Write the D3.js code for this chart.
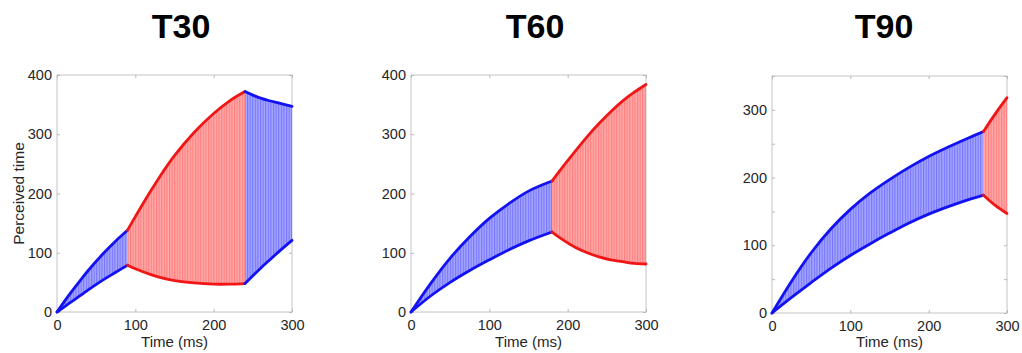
<!DOCTYPE html>
<html>
<head>
<meta charset="utf-8">
<script src="https://cdn.jsdelivr.net/npm/d3@7"></script>
<style>
    body { margin: 0; background: #fff; }
    svg text { font-family: "Liberation Sans", Arial, Helvetica, sans-serif; }
</style>
</head>
<body>
<svg id="chart" width="1022" height="353"></svg>
<script>
// Titles and ticks.
var titles = ['T30', 'T60', 'T90'];
var xTicks = [0, 100, 200, 300];
var yTicks400 = [0, 100, 200, 300, 400];
var yTicks350 = [0, 50, 100, 150, 200, 250, 300, 350];

// T30 : blue 0-90, red 90-240, blue 240-300.
var t30aTime = [0, 15, 30, 45, 60, 75, 90];
var t30aUpper = [0, 28, 54, 78, 100, 120, 138];
var t30aLower = [0, 14, 28, 42, 55, 67, 79];
var t30bTime = [90, 100, 120, 135, 150, 175, 200, 220, 240];
var t30bUpper = [138, 161, 205, 236, 264, 303, 335, 356, 372];
var t30bLower = [79, 73, 63, 57, 53, 49, 47, 47, 48];
var t30cTime = [240, 250, 260, 270, 285, 300];
var t30cUpper = [372, 366, 361, 357, 352, 347];
var t30cLower = [48, 61, 74, 86, 104, 121];

// T60 : blue 0-180, red 180-300.
var t60aTime = [0, 25, 50, 75, 100, 125, 150, 180];
var t60aUpper = [0, 48, 91, 127, 158, 183, 204, 221];
var t60aLower = [0, 27, 50, 70, 88, 105, 120, 135];
var t60bTime = [180, 195, 210, 225, 240, 255, 270, 285, 300];
var t60bUpper = [221, 247, 272, 296, 318, 338, 356, 371, 384];
var t60bLower = [135, 121, 109, 100, 93, 88, 85, 82, 81];

// T90 : blue 0-270, red 270-300.
var t90aTime = [0, 25, 50, 75, 100, 125, 150, 175, 200, 225, 250, 270];
var t90aUpper = [0, 47, 89, 124, 153, 177, 197, 215, 231, 245, 258, 268];
var t90aLower = [0, 23, 45, 66, 85, 102, 118, 133, 146, 157, 167, 174];
var t90bTime = [270, 285, 300];
var t90bUpper = [268, 294, 318];
var t90bLower = [174, 159, 147];

var colors = {
    blue: { line: '#1212f2', light: '#a6a6ff', dark: '#7070ff' },
    red: { line: '#f01616', light: '#ffaaaa', dark: '#ff7878' }
};

function segment(color, time, upper, lower) {
    return {
        color: color,
        points: time.map(function (t, i) {
            return { t: t, hi: upper[i], lo: lower[i] };
        })
    };
}

var panels = [
    {
        title: titles[0], titleX: 181, left: 57, right: 292, top: 75, bottom: 312,
        yMax: 400, yTicks: yTicks400, yLabel: 'Perceived time',
        segments: [
            segment('blue', t30aTime, t30aUpper, t30aLower),
            segment('red', t30bTime, t30bUpper, t30bLower),
            segment('blue', t30cTime, t30cUpper, t30cLower)
        ]
    },
    {
        title: titles[1], titleX: 535, left: 411, right: 646, top: 75, bottom: 312,
        yMax: 400, yTicks: yTicks400, yLabel: null,
        segments: [
            segment('blue', t60aTime, t60aUpper, t60aLower),
            segment('red', t60bTime, t60bUpper, t60bLower)
        ]
    },
    {
        title: titles[2], titleX: 884, left: 772, right: 1007, top: 76, bottom: 313,
        yMax: 350, yTicks: yTicks350, yLabel: null,
        segments: [
            segment('blue', t90aTime, t90aUpper, t90aLower),
            segment('red', t90bTime, t90bUpper, t90bLower)
        ]
    }
];

var svg = d3.select('#chart');

// Vertical hatching used for the filled bands.
var defs = svg.append('defs');
Object.keys(colors).forEach(function (key) {
    var pattern = defs.append('pattern')
        .attr('id', 'hatch-' + key)
        .attr('patternUnits', 'userSpaceOnUse')
        .attr('width', 2.6)
        .attr('height', 10);
    pattern.append('rect')
        .attr('width', 2.6)
        .attr('height', 10)
        .attr('fill', colors[key].light);
    pattern.append('line')
        .attr('x1', 0.6).attr('x2', 0.6)
        .attr('y1', 0).attr('y2', 10)
        .attr('stroke', colors[key].dark)
        .attr('stroke-width', 1);
});

panels.forEach(function (p) {
    var x = d3.scaleLinear().domain([0, 300]).range([p.left, p.right]);
    var y = d3.scaleLinear().domain([0, p.yMax]).range([p.bottom, p.top]);

    var g = svg.append('g');

    // Title.
    svg.append('text')
        .attr('x', p.titleX)
        .attr('y', 38)
        .attr('text-anchor', 'middle')
        .style('font-size', '34px')
        .style('font-weight', 'bold')
        .attr('fill', '#000')
        .text(p.title);

    // Box.
    g.append('rect')
        .attr('x', p.left)
        .attr('y', p.top)
        .attr('width', p.right - p.left)
        .attr('height', p.bottom - p.top)
        .attr('fill', 'none')
        .attr('stroke', '#c4c4c4')
        .attr('stroke-width', 1);

    var labelFmt = function (d) {
        return d % 100 === 0 ? d : '';
    };

    // Axes, MATLAB style with inward ticks on all four sides.
    var bottomAxis = g.append('g')
        .attr('transform', 'translate(0,' + p.bottom + ')')
        .call(d3.axisBottom(x).tickValues(xTicks).tickSize(-3).tickPadding(8));
    var leftAxis = g.append('g')
        .attr('transform', 'translate(' + p.left + ',0)')
        .call(d3.axisLeft(y).tickValues(p.yTicks).tickFormat(labelFmt).tickSize(-3).tickPadding(5));
    var topAxis = g.append('g')
        .attr('transform', 'translate(0,' + p.top + ')')
        .call(d3.axisTop(x).tickValues(xTicks).tickFormat('').tickSize(-3));
    var rightAxis = g.append('g')
        .attr('transform', 'translate(' + p.right + ',0)')
        .call(d3.axisRight(y).tickValues(p.yTicks).tickFormat('').tickSize(-3));

    [bottomAxis, leftAxis, topAxis, rightAxis].forEach(function (a) {
        a.select('.domain').remove();
        a.selectAll('.tick line').attr('stroke', '#b8b8b8');
        a.selectAll('.tick text')
            .attr('fill', '#262626')
            .style('font-size', '14.5px');
    });

    // Bands and their edge lines.
    var curve = d3.curveCatmullRom.alpha(0.5);

    var area = d3.area()
        .curve(curve)
        .x(function (d) { return x(d.t); })
        .y0(function (d) { return y(d.lo); })
        .y1(function (d) { return y(d.hi); });

    var upperLine = d3.line()
        .curve(curve)
        .x(function (d) { return x(d.t); })
        .y(function (d) { return y(d.hi); });

    var lowerLine = d3.line()
        .curve(curve)
        .x(function (d) { return x(d.t); })
        .y(function (d) { return y(d.lo); });

    p.segments.forEach(function (s) {
        g.append('path')
            .datum(s.points)
            .attr('d', area)
            .attr('fill', 'url(#hatch-' + s.color + ')');
    });

    p.segments.forEach(function (s) {
        [upperLine, lowerLine].forEach(function (fn) {
            g.append('path')
                .datum(s.points)
                .attr('d', fn)
                .attr('fill', 'none')
                .attr('stroke', colors[s.color].line)
                .attr('stroke-width', 2.8)
                .attr('stroke-linecap', 'round');
        });
    });

    // Axis labels.
    svg.append('text')
        .attr('x', (p.left + p.right) / 2)
        .attr('y', 347)
        .attr('text-anchor', 'middle')
        .style('font-size', '15px')
        .attr('fill', '#262626')
        .text('Time (ms)');

    if (p.yLabel) {
        svg.append('text')
            .attr('transform', 'translate(24,' + ((p.top + p.bottom) / 2) + ') rotate(-90)')
            .attr('text-anchor', 'middle')
            .style('font-size', '15.5px')
            .attr('fill', '#262626')
            .text(p.yLabel);
    }
});
</script>
</body>
</html>
